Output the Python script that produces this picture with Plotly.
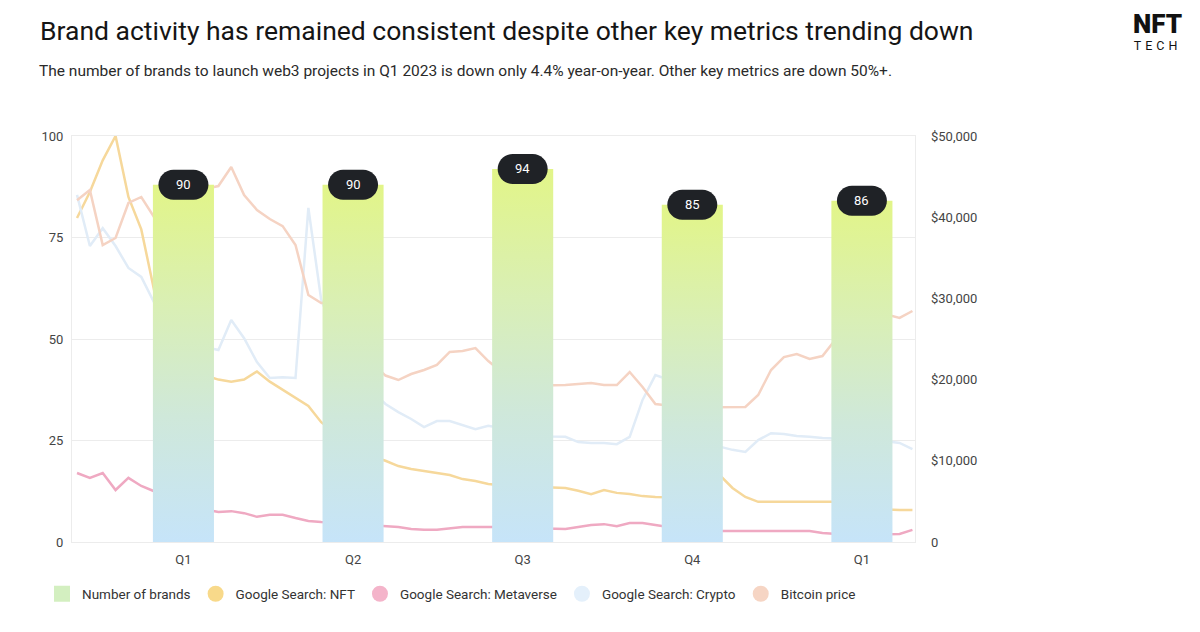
import plotly.graph_objects as go

# ---------------- data ----------------
quarters = ["Q1", "Q2", "Q3", "Q4", "Q1"]
brands = [90, 90, 94, 85, 86]

# weekly series (Google Search index, 0-100)
nft = [79.8, 86.2, 94, 100, 85, 77, 62, 55, 48, 44,
       41, 40, 39.5, 40, 42, 39.5, 37.5, 35.5, 33.5, 29.5,
       27, 24.5, 22.5, 21, 20, 18.7, 18, 17.5, 17, 16.5,
       15.5, 15, 14.3, 14, 14, 13.7, 13.5, 13.4, 13.3, 12.6,
       11.8, 12.8, 12.1, 11.8, 11.3, 11.1, 11, 11.5, 12.5, 15,
       16.5, 13.3, 11.1, 9.9, 9.9, 9.9, 9.9, 9.9, 9.9, 9.9,
       9.5, 9, 8.5, 8, 7.9, 7.9]
metaverse = [17, 15.8, 17, 12.8, 15.8, 13.8, 12.5, 11, 10, 9,
             8, 7.4, 7.6, 7.1, 6.2, 6.7, 6.7, 5.9, 5.2, 4.9,
             4.7, 4.5, 4.3, 4, 3.9, 3.7, 3.2, 3, 3, 3.4,
             3.7, 3.7, 3.7, 3.7, 3.5, 3.4, 3.3, 3.2, 3.2, 3.7,
             4.2, 4.4, 3.9, 4.7, 4.7, 4.2, 3.7, 3.2, 3, 2.8,
             2.7, 2.7, 2.7, 2.7, 2.7, 2.7, 2.7, 2.7, 2.2, 2,
             1.8, 1.8, 1.9, 2, 2, 3]
crypto = [85.5, 72.9, 77.3, 72.9, 67.5, 65.3, 59, 56, 53, 50,
          48, 47.3, 54.7, 50.2, 44.3, 40.4, 40.6, 40.4, 82.3, 59.6,
          52, 45, 40, 37, 34, 32, 30.3, 28.3, 29.8, 29.8,
          28.8, 27.8, 28.6, 28, 27.5, 27, 26.5, 26, 25.9, 24.6,
          24.4, 24.4, 24.1, 25.9, 35, 41.1, 40, 34, 28, 25,
          23.5, 22.7, 22.2, 25.1, 26.8, 26.6, 26.1, 25.9, 25.6, 25.5,
          25.3, 25, 25, 24.8, 24.4, 22.9]
bitcoin = [42100, 43350, 36575, 37440, 41750, 42490, 40000, 38500, 39500, 42000,
           43500, 43840, 46180, 42730, 40890, 39780, 38900, 36580, 30420, 29430,
           29500, 29000, 28500, 22000, 20500, 19950, 20690, 21180, 21800, 23400,
           23520, 23890, 22290, 21000, 20000, 19500, 19300, 19300, 19330, 19460,
           19580, 19330, 19330, 20930, 19090, 16990, 16800, 16500, 16500, 16600,
           16600, 16630, 16630, 18100, 21180, 22780, 23150, 22540, 22900, 24900,
           23000, 25500, 27500, 28000, 27590, 28450]

left_ticks = [0, 25, 50, 75, 100]
right_ticks = [0, 10000, 20000, 30000, 40000, 50000]
right_tick_text = ["0", "$10,000", "$20,000", "$30,000", "$40,000", "$50,000"]

legend_names = ["Number of brands", "Google Search: NFT", "Google Search: Metaverse",
                "Google Search: Crypto", "Bitcoin price"]

# ---------------- styling ----------------
W, H = 1200, 632
OFF = 8  # page body margin offset
ML, MR, MT, MB = 72 - OFF, 285 + OFF, 136 - OFF, 90 + OFF
PW, PH = W - ML - MR, H - MT - MB
FONT = "Roboto"

def paper_x(px):
    return (px - OFF - ML) / PW

def paper_y(py):
    return (H - MB - (py - OFF)) / PH

weeks = list(range(len(nft)))
q_idx = list(range(len(quarters)))

fig = go.Figure()

line_specs = [
    (nft, "#f6d89b", "y"),
    (metaverse, "#efa9c2", "y"),
    (crypto, "#e1ecf7", "y"),
    (bitcoin, "#f5d3c3", "y2"),
]
for vals, color, yax in line_specs:
    fig.add_trace(go.Scatter(
        x=weeks, y=vals, mode="lines", xaxis="x", yaxis=yax,
        line=dict(color=color, width=2.5), showlegend=False, hoverinfo="skip"))

BAR_HALF = 0.18
bar_scale = [[0, "#c6e4f9"], [0.35, "#cfe8da"], [0.65, "#d9efb6"], [1, "#e2f588"]]
for i, v in zip(q_idx, brands):
    fig.add_trace(go.Scatter(
        x=[i - BAR_HALF, i - BAR_HALF, i + BAR_HALF, i + BAR_HALF, i - BAR_HALF],
        y=[0, v, v, 0, 0], mode="none", fill="toself",
        fillgradient=dict(type="vertical", colorscale=bar_scale),
        xaxis="x2", yaxis="y3", showlegend=False, hoverinfo="skip"))

PILL = ("M -10,-15 L 10,-15 C 18.28,-15 25,-8.28 25,0 C 25,8.28 18.28,15 10,15 "
        "L -10,15 C -18.28,15 -25,8.28 -25,0 C -25,-8.28 -18.28,-15 -10,-15 Z")
for i, v in zip(q_idx, brands):
    fig.add_shape(type="path", xref="x2", yref="y3", xsizemode="pixel", ysizemode="pixel",
                  xanchor=i, yanchor=v, path=PILL, fillcolor="#1f2226",
                  line=dict(width=0), layer="above")
    fig.add_annotation(x=i, y=v, xref="x2", yref="y3", text=str(v), showarrow=False,
                       font=dict(family=FONT, size=13, color="#ffffff"))

legend_styles = [("square", "#d3efc0"), ("circle", "#f8d98a"), ("circle", "#f4b4ca"),
                 ("circle", "#e4f0fb"), ("circle", "#f6d5c4")]
for name, (sym, col) in zip(legend_names, legend_styles):
    fig.add_trace(go.Scatter(x=[None], y=[None], mode="markers", name=name,
                             marker=dict(symbol=sym, size=16, color=col)))

fig.update_layout(
    width=W, height=H,
    margin=dict(l=ML, r=MR, t=MT, b=MB, autoexpand=False),
    paper_bgcolor="white", plot_bgcolor="white",
    font=dict(family=FONT, size=13, color="#444444"),
    title=dict(text="Brand activity has remained consistent despite other key metrics trending down",
               font=dict(family=FONT, size=26.5, color="#151515"),
               xref="container", yref="container", x=(40 - OFF) / W, xanchor="left",
               y=1 - (31 - OFF) / H, yanchor="middle"),
    showlegend=True,
    legend=dict(orientation="h", xref="container", yref="container",
                x=34 / W, xanchor="left", y=1 - (594 - OFF) / H, yanchor="middle",
                font=dict(family=FONT, size=13.5, color="#333333"), itemclick=False),
    xaxis=dict(range=[-0.39, 65.2], showticklabels=False, showgrid=False, zeroline=False,
               showline=True, mirror=True, linecolor="#ececec", ticks=""),
    xaxis2=dict(overlaying="x", side="bottom", range=[-0.657, 4.313],
                tickvals=q_idx, ticktext=quarters, showgrid=False, zeroline=False,
                showline=False, ticks="", ticklabelstandoff=8,
                tickfont=dict(family=FONT, size=13, color="#444444")),
    yaxis=dict(range=[0, 100], tickvals=left_ticks, showgrid=True, gridcolor="#ececec",
               zeroline=False, showline=True, mirror=True, linecolor="#ececec",
               ticks="", ticklabelstandoff=5,
               tickfont=dict(family=FONT, size=13, color="#444444")),
    yaxis2=dict(overlaying="y", side="right", range=[0, 50000], tickvals=right_ticks,
                ticktext=right_tick_text, showgrid=False, zeroline=False, showline=False,
                ticks="", ticklabelstandoff=15,
                tickfont=dict(family=FONT, size=13, color="#444444")),
    yaxis3=dict(overlaying="y", range=[0, 102.3], visible=False),
)

fig.add_annotation(
    xref="paper", yref="paper", x=paper_x(37), y=paper_y(71), xanchor="left", yanchor="middle",
    text="The number of brands to launch web3 projects in Q1 2023 is down only 4.4% year-on-year. "
         "Other key metrics are down 50%+.",
    showarrow=False, font=dict(family=FONT, size=15.5, color="#2a2a2a"))
fig.add_annotation(
    xref="paper", yref="paper", x=paper_x(1157), y=paper_y(31), xanchor="center", yanchor="middle",
    text=("<span style='font-size:26px;font-weight:900'>NFT</span><br>"
          "<span style='font-size:12.5px;letter-spacing:4px'>TECH</span>"),
    showarrow=False, font=dict(family=FONT, size=13, color="#111111"))

fig.write_html("out.html")
